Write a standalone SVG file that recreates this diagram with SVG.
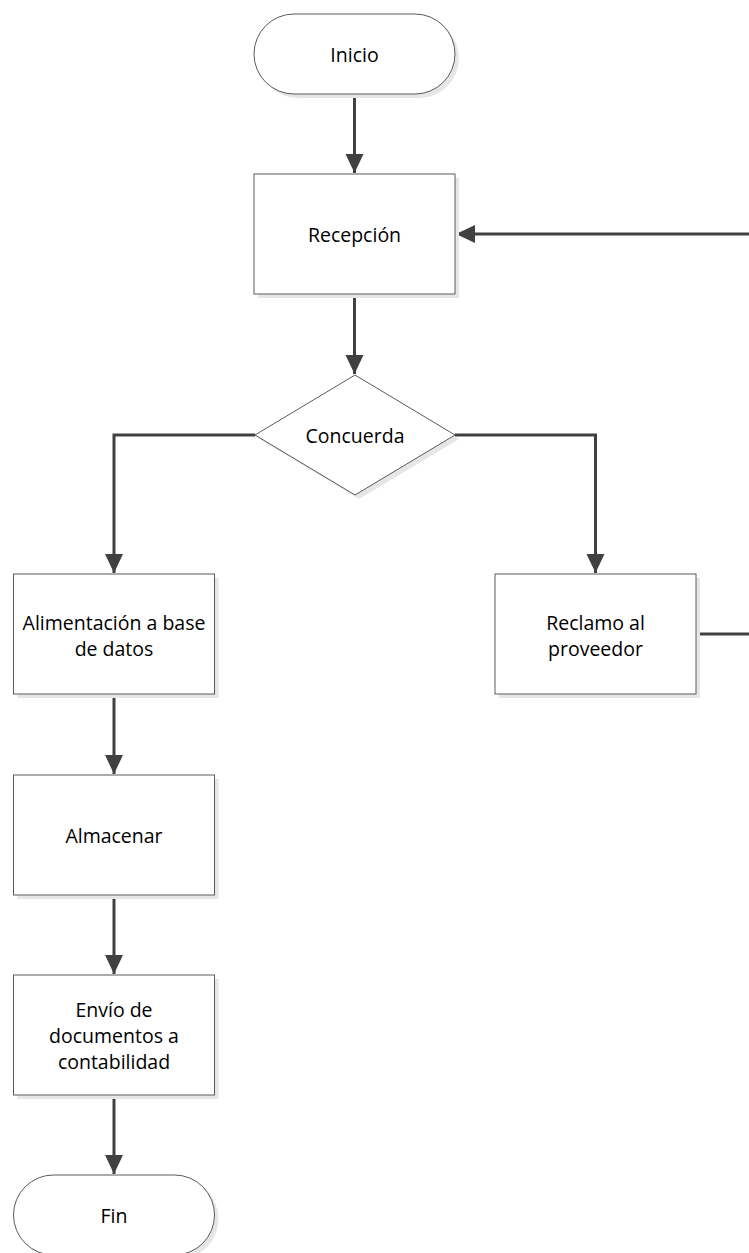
<svg xmlns="http://www.w3.org/2000/svg" width="749" height="1253" viewBox="0 0 749 1253">
<style>
.shape{fill:#ffffff;stroke:#5a5a5a;stroke-width:1}
.shadow{fill:#e6e6e6;stroke:none}
.lbl{font-family:"Open Sans","Liberation Sans",sans-serif;font-size:19.5px;fill:#000000;text-anchor:middle;dominant-baseline:central}
.conn{fill:none;stroke:#404040;stroke-width:3}
</style>
<defs>
<marker id="arr" markerUnits="userSpaceOnUse" markerWidth="20" markerHeight="20" viewBox="0 0 20 20" refX="19" refY="10" orient="auto">
<path d="M0,1 L19,10 L0,19 Z" fill="#404040"/>
</marker>
</defs>
<rect width="749" height="1253" fill="#ffffff"/>

<g id="connectors">
<path class="conn" d="M354.5,94 V173" marker-end="url(#arr)"/>
<path class="conn" d="M354.5,294 V374" marker-end="url(#arr)"/>
<path class="conn" d="M255,435 H114 V573" marker-end="url(#arr)"/>
<path class="conn" d="M455,435 H595.5 V573" marker-end="url(#arr)"/>
<path class="conn" d="M114,694 V774" marker-end="url(#arr)"/>
<path class="conn" d="M114,895 V974" marker-end="url(#arr)"/>
<path class="conn" d="M114,1095 V1174" marker-end="url(#arr)"/>
<path class="conn" d="M696,634 H765 V234 H456" marker-end="url(#arr)"/>
</g>

<g id="inicio">
<rect class="shadow" x="258" y="18" width="201" height="80" rx="40" ry="40"/>
<rect class="shape" x="254" y="14" width="201" height="80" rx="40" ry="40"/>
<text class="lbl" x="354.5" y="54">Inicio</text>
</g>

<g id="recepcion">
<rect class="shadow" x="258" y="178" width="201" height="120"/>
<rect class="shape" x="254" y="174" width="201" height="120"/>
<text class="lbl" x="354.5" y="234">Recepción</text>
</g>

<g id="concuerda">
<polygon class="shadow" points="359,379 459,439 359,499 259,439"/>
<polygon class="shape" points="355,375 455,435 355,495 255,435"/>
<text class="lbl" x="355" y="435">Concuerda</text>
</g>

<g id="alimentacion">
<rect class="shadow" x="17.5" y="578" width="201" height="120"/>
<rect class="shape" x="13.5" y="574" width="201" height="120"/>
<text class="lbl" x="114" y="622">Alimentación a base</text>
<text class="lbl" x="114" y="648">de datos</text>
</g>

<g id="reclamo">
<rect class="shadow" x="499" y="578" width="201" height="120"/>
<rect class="shape" x="495" y="574" width="201" height="120"/>
<text class="lbl" x="595.5" y="622">Reclamo al</text>
<text class="lbl" x="595.5" y="648">proveedor</text>
</g>

<g id="almacenar">
<rect class="shadow" x="17.5" y="779" width="201" height="120"/>
<rect class="shape" x="13.5" y="775" width="201" height="120"/>
<text class="lbl" x="114" y="835">Almacenar</text>
</g>

<g id="envio">
<rect class="shadow" x="17.5" y="979" width="201" height="120"/>
<rect class="shape" x="13.5" y="975" width="201" height="120"/>
<text class="lbl" x="114" y="1009">Envío de</text>
<text class="lbl" x="114" y="1035">documentos a</text>
<text class="lbl" x="114" y="1061">contabilidad</text>
</g>

<g id="fin">
<rect class="shadow" x="17.5" y="1179" width="201" height="80" rx="40" ry="40"/>
<rect class="shape" x="13.5" y="1175" width="201" height="80" rx="40" ry="40"/>
<text class="lbl" x="114" y="1215">Fin</text>
</g>
</svg>
